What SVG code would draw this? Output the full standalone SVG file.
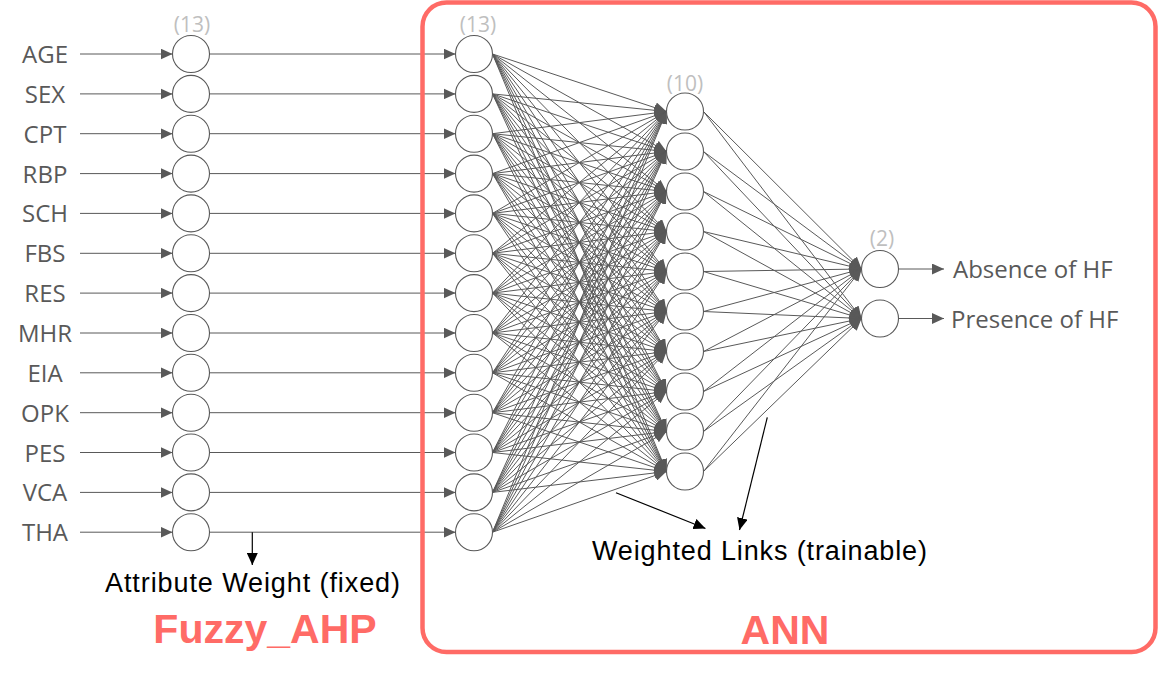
<svg xmlns="http://www.w3.org/2000/svg" width="1158" height="678" viewBox="0 0 1158 678">
<style>
.lbl{font-family:"Open Sans","DejaVu Sans",sans-serif;font-size:24px;fill:#595959}
.cnt{font-family:"Open Sans","DejaVu Sans",sans-serif;font-size:21px;fill:#bfbfbf;text-anchor:middle}
.ann{font-family:"Liberation Sans",Arial,sans-serif;font-size:27px;fill:#000}
.big{font-family:"Liberation Sans",Arial,sans-serif;font-size:41px;font-weight:bold;fill:#ff6b66}
.n{fill:#fff;stroke:#595959;stroke-width:1.1}
.c path,.c line{stroke:#595959;stroke-width:1;fill:none;marker-end:url(#ag)}
.c .k{stroke:#000;stroke-width:1.2;fill:none;marker-end:url(#ak)}
</style>
<defs>
<marker id="ag" markerUnits="userSpaceOnUse" viewBox="0 0 12 11" refX="12" refY="5.5" markerWidth="12" markerHeight="11" orient="auto"><path d="M0,0L12,5.5L0,11Z" fill="#595959"/></marker>
<marker id="ak" markerUnits="userSpaceOnUse" viewBox="0 0 12 11" refX="12" refY="5.5" markerWidth="12" markerHeight="11" orient="auto"><path d="M0,0L12,5.5L0,11Z" fill="#000"/></marker>
</defs>
<rect width="1158" height="678" fill="#fff"/>

<g id="connectors" class="c">
<!-- inputs -->
<line x1="80" y1="54" x2="172.5" y2="54"/>
<line x1="80" y1="93.9" x2="172.5" y2="93.9"/>
<line x1="80" y1="133.7" x2="172.5" y2="133.7"/>
<line x1="80" y1="173.6" x2="172.5" y2="173.6"/>
<line x1="80" y1="213.4" x2="172.5" y2="213.4"/>
<line x1="80" y1="253.3" x2="172.5" y2="253.3"/>
<line x1="80" y1="293.1" x2="172.5" y2="293.1"/>
<line x1="80" y1="333" x2="172.5" y2="333"/>
<line x1="80" y1="372.8" x2="172.5" y2="372.8"/>
<line x1="80" y1="412.7" x2="172.5" y2="412.7"/>
<line x1="80" y1="452.5" x2="172.5" y2="452.5"/>
<line x1="80" y1="492.4" x2="172.5" y2="492.4"/>
<line x1="80" y1="532.2" x2="172.5" y2="532.2"/>
<!-- fuzzy to ann input -->
<line x1="209.5" y1="54" x2="455.5" y2="54"/>
<line x1="209.5" y1="93.9" x2="455.5" y2="93.9"/>
<line x1="209.5" y1="133.7" x2="455.5" y2="133.7"/>
<line x1="209.5" y1="173.6" x2="455.5" y2="173.6"/>
<line x1="209.5" y1="213.4" x2="455.5" y2="213.4"/>
<line x1="209.5" y1="253.3" x2="455.5" y2="253.3"/>
<line x1="209.5" y1="293.1" x2="455.5" y2="293.1"/>
<line x1="209.5" y1="333" x2="455.5" y2="333"/>
<line x1="209.5" y1="372.8" x2="455.5" y2="372.8"/>
<line x1="209.5" y1="412.7" x2="455.5" y2="412.7"/>
<line x1="209.5" y1="452.5" x2="455.5" y2="452.5"/>
<line x1="209.5" y1="492.4" x2="455.5" y2="492.4"/>
<line x1="209.5" y1="532.2" x2="455.5" y2="532.2"/>
<!-- input to hidden -->
<path d="M492.5 54L666.5 111.5"/><path d="M492.5 54L666.5 151.5"/><path d="M492.5 54L666.5 191.5"/><path d="M492.5 54L666.5 231.5"/><path d="M492.5 54L666.5 271.5"/><path d="M492.5 54L666.5 311.5"/><path d="M492.5 54L666.5 351.5"/><path d="M492.5 54L666.5 391.5"/><path d="M492.5 54L666.5 431.5"/><path d="M492.5 54L666.5 471.5"/>
<path d="M492.5 93.9L666.5 111.5"/><path d="M492.5 93.9L666.5 151.5"/><path d="M492.5 93.9L666.5 191.5"/><path d="M492.5 93.9L666.5 231.5"/><path d="M492.5 93.9L666.5 271.5"/><path d="M492.5 93.9L666.5 311.5"/><path d="M492.5 93.9L666.5 351.5"/><path d="M492.5 93.9L666.5 391.5"/><path d="M492.5 93.9L666.5 431.5"/><path d="M492.5 93.9L666.5 471.5"/>
<path d="M492.5 133.7L666.5 111.5"/><path d="M492.5 133.7L666.5 151.5"/><path d="M492.5 133.7L666.5 191.5"/><path d="M492.5 133.7L666.5 231.5"/><path d="M492.5 133.7L666.5 271.5"/><path d="M492.5 133.7L666.5 311.5"/><path d="M492.5 133.7L666.5 351.5"/><path d="M492.5 133.7L666.5 391.5"/><path d="M492.5 133.7L666.5 431.5"/><path d="M492.5 133.7L666.5 471.5"/>
<path d="M492.5 173.6L666.5 111.5"/><path d="M492.5 173.6L666.5 151.5"/><path d="M492.5 173.6L666.5 191.5"/><path d="M492.5 173.6L666.5 231.5"/><path d="M492.5 173.6L666.5 271.5"/><path d="M492.5 173.6L666.5 311.5"/><path d="M492.5 173.6L666.5 351.5"/><path d="M492.5 173.6L666.5 391.5"/><path d="M492.5 173.6L666.5 431.5"/><path d="M492.5 173.6L666.5 471.5"/>
<path d="M492.5 213.4L666.5 111.5"/><path d="M492.5 213.4L666.5 151.5"/><path d="M492.5 213.4L666.5 191.5"/><path d="M492.5 213.4L666.5 231.5"/><path d="M492.5 213.4L666.5 271.5"/><path d="M492.5 213.4L666.5 311.5"/><path d="M492.5 213.4L666.5 351.5"/><path d="M492.5 213.4L666.5 391.5"/><path d="M492.5 213.4L666.5 431.5"/><path d="M492.5 213.4L666.5 471.5"/>
<path d="M492.5 253.3L666.5 111.5"/><path d="M492.5 253.3L666.5 151.5"/><path d="M492.5 253.3L666.5 191.5"/><path d="M492.5 253.3L666.5 231.5"/><path d="M492.5 253.3L666.5 271.5"/><path d="M492.5 253.3L666.5 311.5"/><path d="M492.5 253.3L666.5 351.5"/><path d="M492.5 253.3L666.5 391.5"/><path d="M492.5 253.3L666.5 431.5"/><path d="M492.5 253.3L666.5 471.5"/>
<path d="M492.5 293.1L666.5 111.5"/><path d="M492.5 293.1L666.5 151.5"/><path d="M492.5 293.1L666.5 191.5"/><path d="M492.5 293.1L666.5 231.5"/><path d="M492.5 293.1L666.5 271.5"/><path d="M492.5 293.1L666.5 311.5"/><path d="M492.5 293.1L666.5 351.5"/><path d="M492.5 293.1L666.5 391.5"/><path d="M492.5 293.1L666.5 431.5"/><path d="M492.5 293.1L666.5 471.5"/>
<path d="M492.5 333L666.5 111.5"/><path d="M492.5 333L666.5 151.5"/><path d="M492.5 333L666.5 191.5"/><path d="M492.5 333L666.5 231.5"/><path d="M492.5 333L666.5 271.5"/><path d="M492.5 333L666.5 311.5"/><path d="M492.5 333L666.5 351.5"/><path d="M492.5 333L666.5 391.5"/><path d="M492.5 333L666.5 431.5"/><path d="M492.5 333L666.5 471.5"/>
<path d="M492.5 372.8L666.5 111.5"/><path d="M492.5 372.8L666.5 151.5"/><path d="M492.5 372.8L666.5 191.5"/><path d="M492.5 372.8L666.5 231.5"/><path d="M492.5 372.8L666.5 271.5"/><path d="M492.5 372.8L666.5 311.5"/><path d="M492.5 372.8L666.5 351.5"/><path d="M492.5 372.8L666.5 391.5"/><path d="M492.5 372.8L666.5 431.5"/><path d="M492.5 372.8L666.5 471.5"/>
<path d="M492.5 412.7L666.5 111.5"/><path d="M492.5 412.7L666.5 151.5"/><path d="M492.5 412.7L666.5 191.5"/><path d="M492.5 412.7L666.5 231.5"/><path d="M492.5 412.7L666.5 271.5"/><path d="M492.5 412.7L666.5 311.5"/><path d="M492.5 412.7L666.5 351.5"/><path d="M492.5 412.7L666.5 391.5"/><path d="M492.5 412.7L666.5 431.5"/><path d="M492.5 412.7L666.5 471.5"/>
<path d="M492.5 452.5L666.5 111.5"/><path d="M492.5 452.5L666.5 151.5"/><path d="M492.5 452.5L666.5 191.5"/><path d="M492.5 452.5L666.5 231.5"/><path d="M492.5 452.5L666.5 271.5"/><path d="M492.5 452.5L666.5 311.5"/><path d="M492.5 452.5L666.5 351.5"/><path d="M492.5 452.5L666.5 391.5"/><path d="M492.5 452.5L666.5 431.5"/><path d="M492.5 452.5L666.5 471.5"/>
<path d="M492.5 492.4L666.5 111.5"/><path d="M492.5 492.4L666.5 151.5"/><path d="M492.5 492.4L666.5 191.5"/><path d="M492.5 492.4L666.5 231.5"/><path d="M492.5 492.4L666.5 271.5"/><path d="M492.5 492.4L666.5 311.5"/><path d="M492.5 492.4L666.5 351.5"/><path d="M492.5 492.4L666.5 391.5"/><path d="M492.5 492.4L666.5 431.5"/><path d="M492.5 492.4L666.5 471.5"/>
<path d="M492.5 532.2L666.5 111.5"/><path d="M492.5 532.2L666.5 151.5"/><path d="M492.5 532.2L666.5 191.5"/><path d="M492.5 532.2L666.5 231.5"/><path d="M492.5 532.2L666.5 271.5"/><path d="M492.5 532.2L666.5 311.5"/><path d="M492.5 532.2L666.5 351.5"/><path d="M492.5 532.2L666.5 391.5"/><path d="M492.5 532.2L666.5 431.5"/><path d="M492.5 532.2L666.5 471.5"/>
<!-- hidden to output -->
<path d="M703.5 111.5L861.5 269"/><path d="M703.5 111.5L861.5 318.5"/>
<path d="M703.5 151.5L861.5 269"/><path d="M703.5 151.5L861.5 318.5"/>
<path d="M703.5 191.5L861.5 269"/><path d="M703.5 191.5L861.5 318.5"/>
<path d="M703.5 231.5L861.5 269"/><path d="M703.5 231.5L861.5 318.5"/>
<path d="M703.5 271.5L861.5 269"/><path d="M703.5 271.5L861.5 318.5"/>
<path d="M703.5 311.5L861.5 269"/><path d="M703.5 311.5L861.5 318.5"/>
<path d="M703.5 351.5L861.5 269"/><path d="M703.5 351.5L861.5 318.5"/>
<path d="M703.5 391.5L861.5 269"/><path d="M703.5 391.5L861.5 318.5"/>
<path d="M703.5 431.5L861.5 269"/><path d="M703.5 431.5L861.5 318.5"/>
<path d="M703.5 471.5L861.5 269"/><path d="M703.5 471.5L861.5 318.5"/>
<!-- outputs -->
<line x1="898.5" y1="269" x2="944" y2="269"/>
<line x1="898.5" y1="318.5" x2="944" y2="318.5"/>
<!-- annotation arrows -->
<line class="k" x1="252.3" y1="532.2" x2="252.3" y2="565"/>
<line class="k" x1="616" y1="492.7" x2="705.5" y2="528.5"/>
<line class="k" x1="767.3" y1="417.3" x2="739.5" y2="530"/>
</g>

<g id="labels">
<text class="lbl" text-anchor="middle" x="45" y="63">AGE</text>
<text class="lbl" text-anchor="middle" x="45" y="102.9">SEX</text>
<text class="lbl" text-anchor="middle" x="45" y="142.7">CPT</text>
<text class="lbl" text-anchor="middle" x="45" y="182.6">RBP</text>
<text class="lbl" text-anchor="middle" x="45" y="222.4">SCH</text>
<text class="lbl" text-anchor="middle" x="45" y="262.3">FBS</text>
<text class="lbl" text-anchor="middle" x="45" y="302.1">RES</text>
<text class="lbl" text-anchor="middle" x="45" y="342">MHR</text>
<text class="lbl" text-anchor="middle" x="45" y="381.8">EIA</text>
<text class="lbl" text-anchor="middle" x="45" y="421.7">OPK</text>
<text class="lbl" text-anchor="middle" x="45" y="461.5">PES</text>
<text class="lbl" text-anchor="middle" x="45" y="501.4">VCA</text>
<text class="lbl" text-anchor="middle" x="45" y="541.2">THA</text>
</g>

<g id="fuzzy-layer">
<text class="cnt" x="192" y="32">(13)</text>
<circle class="n" cx="191" cy="54" r="18.5"/>
<circle class="n" cx="191" cy="93.9" r="18.5"/>
<circle class="n" cx="191" cy="133.7" r="18.5"/>
<circle class="n" cx="191" cy="173.6" r="18.5"/>
<circle class="n" cx="191" cy="213.4" r="18.5"/>
<circle class="n" cx="191" cy="253.3" r="18.5"/>
<circle class="n" cx="191" cy="293.1" r="18.5"/>
<circle class="n" cx="191" cy="333" r="18.5"/>
<circle class="n" cx="191" cy="372.8" r="18.5"/>
<circle class="n" cx="191" cy="412.7" r="18.5"/>
<circle class="n" cx="191" cy="452.5" r="18.5"/>
<circle class="n" cx="191" cy="492.4" r="18.5"/>
<circle class="n" cx="191" cy="532.2" r="18.5"/>
</g>

<g id="input-layer">
<text class="cnt" x="478" y="32">(13)</text>
<circle class="n" cx="474" cy="54" r="18.5"/>
<circle class="n" cx="474" cy="93.9" r="18.5"/>
<circle class="n" cx="474" cy="133.7" r="18.5"/>
<circle class="n" cx="474" cy="173.6" r="18.5"/>
<circle class="n" cx="474" cy="213.4" r="18.5"/>
<circle class="n" cx="474" cy="253.3" r="18.5"/>
<circle class="n" cx="474" cy="293.1" r="18.5"/>
<circle class="n" cx="474" cy="333" r="18.5"/>
<circle class="n" cx="474" cy="372.8" r="18.5"/>
<circle class="n" cx="474" cy="412.7" r="18.5"/>
<circle class="n" cx="474" cy="452.5" r="18.5"/>
<circle class="n" cx="474" cy="492.4" r="18.5"/>
<circle class="n" cx="474" cy="532.2" r="18.5"/>
</g>

<g id="hidden-layer">
<text class="cnt" x="685" y="91">(10)</text>
<circle class="n" cx="685" cy="111.5" r="18.5"/>
<circle class="n" cx="685" cy="151.5" r="18.5"/>
<circle class="n" cx="685" cy="191.5" r="18.5"/>
<circle class="n" cx="685" cy="231.5" r="18.5"/>
<circle class="n" cx="685" cy="271.5" r="18.5"/>
<circle class="n" cx="685" cy="311.5" r="18.5"/>
<circle class="n" cx="685" cy="351.5" r="18.5"/>
<circle class="n" cx="685" cy="391.5" r="18.5"/>
<circle class="n" cx="685" cy="431.5" r="18.5"/>
<circle class="n" cx="685" cy="471.5" r="18.5"/>
</g>

<g id="output-layer">
<text class="cnt" x="882" y="246">(2)</text>
<circle class="n" cx="880" cy="269" r="18.5"/>
<circle class="n" cx="880" cy="318.5" r="18.5"/>
<text class="lbl" x="953" y="278">Absence of HF</text>
<text class="lbl" x="951" y="327.5">Presence of HF</text>
</g>

<g id="annotations">
<text class="ann" x="105" y="592" textLength="295" lengthAdjust="spacing">Attribute Weight (fixed)</text>
<text class="ann" x="592" y="560" textLength="335" lengthAdjust="spacing">Weighted Links (trainable)</text>
<text class="big" x="265" y="643" text-anchor="middle">Fuzzy_AHP</text>
<text class="big" x="785" y="644" text-anchor="middle">ANN</text>
</g>

<g id="ann-box">
<rect x="422.5" y="2.5" width="733" height="649.5" rx="24" ry="24" fill="none" stroke="#ff6b66" stroke-width="4.5"/>
</g>
</svg>
